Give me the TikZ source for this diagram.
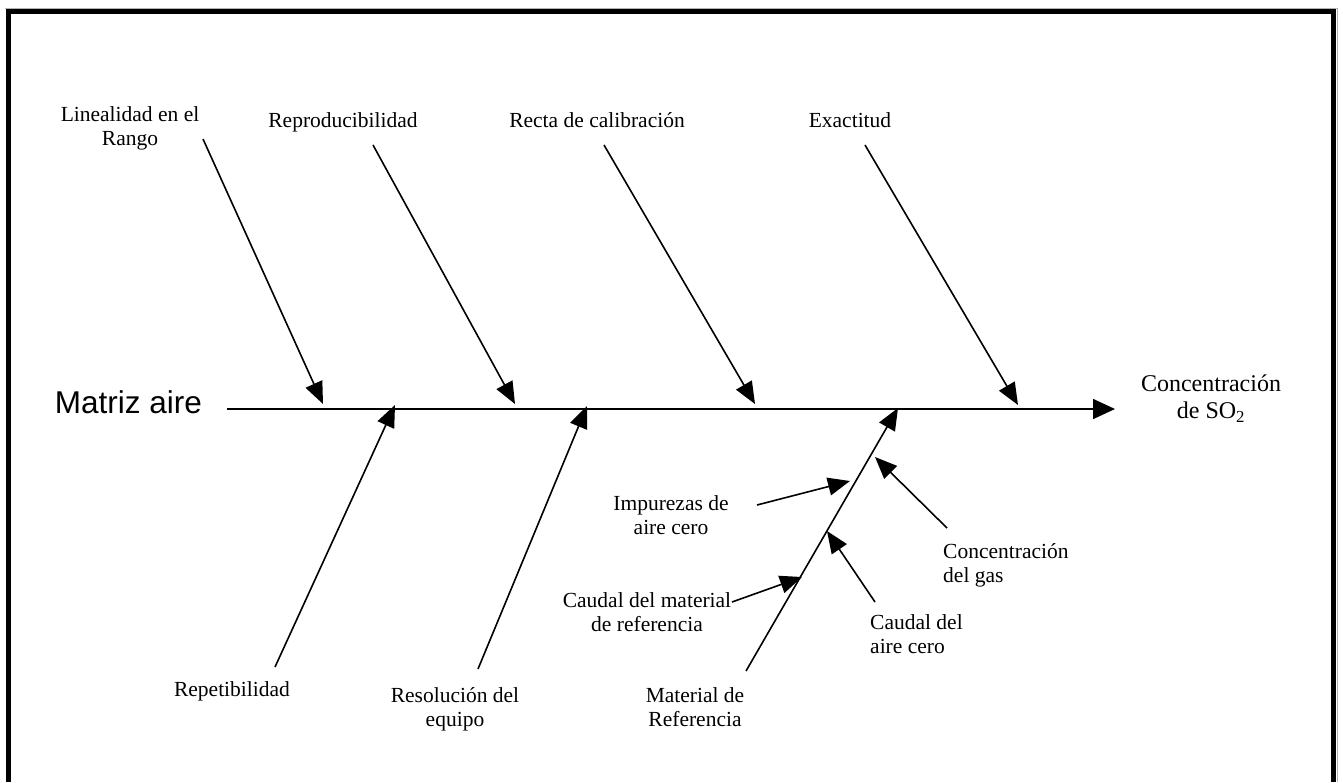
\documentclass[tikz,border=0pt]{standalone}
\usepackage{fontspec}
\setmainfont{Liberation Serif}
\newfontfamily\arialfont{Liberation Sans}
\usetikzlibrary{arrows.meta}
\def\labelfont{\fontsize{21.5}{24}\selectfont}

\begin{document}
\begin{tikzpicture}[x=1pt,y=-1pt,
  bone/.style={line width=1.6pt,-{Triangle[length=22pt,width=18pt]}},
  lbl/.style={inner sep=0pt,align=center,font=\labelfont}]
\useasboundingbox (0,0) rectangle (1343,782);
\draw[gray!60,line width=1pt] (5,8) -- (1337,8) -- (1337,782);
\draw[line width=5pt] (8,782) -- (8,11) -- (1333,11) -- (1333,782);
% spine
\coordinate (tail) at (227,409);
\coordinate (head) at (1115,409);
\draw[line width=1.7pt,-{Triangle[length=22pt,width=20pt]}] (tail) -- (head);
\node (matriz) at (128.5,413) [anchor=base,inner sep=0pt] {\arialfont\fontsize{31.5}{36}\selectfont Matriz aire};
\node (so2) at (1211,399) [lbl,font=\fontsize{24}{27}\selectfont] {Concentración\\de SO\textsubscript{2}};
% upper causes
\node (lin) at (130,128) [lbl] {Linealidad en el\\Rango};
\node (rep) at (343,127) [lbl,anchor=base] {Reproducibilidad};
\node (rec) at (597,127) [lbl,anchor=base] {Recta de calibración};
\node (exa) at (850,127) [lbl,anchor=base] {Exactitud};
\coordinate (lin-s) at (203,139);  \coordinate (lin-t) at (323,404);
\coordinate (rep-s) at (373,145);  \coordinate (rep-t) at (515,404);
\coordinate (rec-s) at (604,145);  \coordinate (rec-t) at (755,404);
\coordinate (exa-s) at (865,145);  \coordinate (exa-t) at (1018,405);
\draw[bone] (lin-s) -- (lin-t);
\draw[bone] (rep-s) -- (rep-t);
\draw[bone] (rec-s) -- (rec-t);
\draw[bone] (exa-s) -- (exa-t);
% lower causes
\node (rpt) at (232,696) [lbl,anchor=base] {Repetibilidad};
\node (res) at (455,709) [lbl] {Resolución del\\equipo};
\node (mat) at (695,707) [lbl] {Material de\\Referencia};
\coordinate (rpt-s) at (275,667);  \coordinate (rpt-t) at (395,405);
\coordinate (res-s) at (478,669);  \coordinate (res-t) at (587,406);
\coordinate (mat-s) at (746,671);  \coordinate (mat-t) at (898,408);
\draw[bone] (rpt-s) -- (rpt-t);
\draw[bone] (res-s) -- (res-t);
\draw[bone] (mat-s) -- (mat-t);
% sub causes of the reference material
\node (imp) at (671,515) [lbl] {Impurezas de\\aire cero};
\node (cau) at (647,612) [lbl] {Caudal del material\\de referencia};
\node (con) at (943,565) [lbl,anchor=west,align=left] {Concentración\\del gas};
\node (cai) at (870,634) [lbl,anchor=west,align=left] {Caudal del\\aire cero};
\coordinate (imp-s) at (757,505);  \coordinate (imp-t) at (850,481);
\coordinate (cau-s) at (732,602);  \coordinate (cau-t) at (802,577);
\coordinate (con-s) at (947,528);  \coordinate (con-t) at (875,457);
\coordinate (cai-s) at (875,602);  \coordinate (cai-t) at (827,531);
\draw[bone] (imp-s) -- (imp-t);
\draw[bone] (cau-s) -- (cau-t);
\draw[bone] (con-s) -- (con-t);
\draw[bone] (cai-s) -- (cai-t);
\end{tikzpicture}
\end{document}
